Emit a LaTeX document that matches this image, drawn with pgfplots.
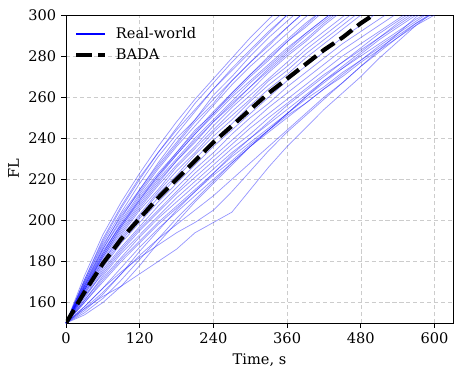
\documentclass[border=0pt]{standalone}
\usepackage{fontspec}
\setmainfont{DejaVu Serif}
\usepackage{pgfplots}
\pgfplotsset{compat=1.18}
\usetikzlibrary{calc}

\tikzset{
  rw/.style={draw=blue, opacity=0.42, line width=0.5pt},
  bada/.style={draw=black, line width=3pt, dash pattern=on 11.1pt off 4.8pt},
}

\begin{document}
\begin{tikzpicture}
\begin{axis}[
  scale only axis,
  width=278.6pt, height=221.8pt,
  xmin=0, xmax=630, ymin=150, ymax=300,
  xtick={0,120,...,600}, ytick={160,180,...,300},
  xlabel={Time, s}, ylabel={FL},
  tick align=outside, major tick length=3.5pt,
  xtick pos=bottom, ytick pos=left,
  /pgf/number format/assume math mode=true,
  tick label style={font=\fontsize{10.5}{12.5}\selectfont},
  label style={font=\fontsize{10.5}{12.5}\selectfont},
  grid=major,
  major grid style={gray!40, line width=0.5pt, dash pattern=on 3pt off 2pt},
  axis line style={line width=0.6pt},
  every tick/.style={black, line width=0.6pt},
  legend style={at={(axis description cs:0.01,0.98)}, anchor=north west,
    draw=none, fill=none, font=\fontsize{10.5}{12.5}\selectfont, row sep=2pt},
  legend cell align=left,
  legend image code/.code={\draw[#1] (0pt,0pt) -- (20.5pt,0pt); \path (25pt,0pt);},
]
\coordinate (bl) at (rel axis cs:0,0);
\coordinate (tr) at (rel axis cs:1,1);

% real-world trajectories
\addplot[rw, forget plot] coordinates {(0,150)(30,173)(60,193)(90,209)(120,223)(150,236)(180,248)(210,259)(240,269)(270,279)(300,289)(330,298)(360,306)};
\addplot[rw, forget plot] coordinates {(0,150)(30,171)(60,190)(90,206)(120,220)(150,233)(180,245)(210,257)(240,267)(270,277)(300,286)(330,295)(360,303)};
\addplot[rw, forget plot] coordinates {(0,150)(30,170)(60,189)(90,204)(120,218)(150,231)(180,242)(210,253)(240,264)(270,273)(300,282)(330,291)(360,300)(390,308)};
\addplot[rw, forget plot] coordinates {(0,150)(30,169)(60,187)(90,203)(120,215)(150,228)(180,240)(210,249)(240,261)(270,270)(300,280)(330,289)(360,297)(390,305)};
\addplot[rw, forget plot] coordinates {(0,150)(30,170)(60,188)(90,202)(120,214)(150,226)(180,237)(210,248)(240,257)(270,268)(300,277)(330,285)(360,294)(390,302)};
\addplot[rw, forget plot] coordinates {(0,150)(30,168)(60,186)(90,200)(120,213)(150,225)(180,236)(210,246)(240,256)(270,266)(300,275)(330,283)(360,291)(390,299)(420,306)};
\addplot[rw, forget plot] coordinates {(0,150)(30,167)(60,184)(90,199)(120,212)(150,223)(180,233)(210,244)(240,252)(270,262)(300,271)(330,280)(360,288)(390,296)(420,303)};
\addplot[rw, forget plot] coordinates {(0,150)(30,168)(60,185)(90,198)(120,210)(150,221)(180,232)(210,242)(240,252)(270,261)(300,270)(330,278)(360,287)(390,294)(420,302)};
\addplot[rw, forget plot] coordinates {(0,150)(30,166)(60,183)(90,197)(120,209)(150,220)(180,230)(210,240)(240,249)(270,258)(300,267)(330,275)(360,283)(390,291)(420,298)(450,305)};
\addplot[rw, forget plot] coordinates {(0,150)(30,167)(60,182)(90,195)(120,207)(150,218)(180,229)(210,238)(240,248)(270,257)(300,265)(330,274)(360,282)(390,290)(420,297)(450,304)};
\addplot[rw, forget plot] coordinates {(0,150)(30,166)(60,181)(90,194)(120,206)(150,217)(180,227)(210,236)(240,246)(270,255)(300,263)(330,272)(360,280)(390,287)(420,295)(450,302)};
\addplot[rw, forget plot] coordinates {(0,150)(30,165)(60,180)(90,193)(120,205)(150,215)(180,226)(210,235)(240,244)(270,253)(300,261)(330,269)(360,277)(390,285)(420,292)(450,299)(480,306)};
\addplot[rw, forget plot] coordinates {(0,150)(30,166)(60,180)(90,192)(120,203)(150,214)(180,224)(210,233)(240,243)(270,251)(300,259)(330,268)(360,275)(390,283)(420,290)(450,297)(480,304)};
\addplot[rw, forget plot] coordinates {(0,150)(30,164)(60,179)(90,191)(120,202)(150,213)(180,222)(210,232)(240,241)(270,249)(300,258)(330,266)(360,273)(390,281)(420,288)(450,295)(480,302)};
\addplot[rw, forget plot] coordinates {(0,150)(30,165)(60,178)(90,190)(120,201)(150,211)(180,221)(210,230)(240,239)(270,247)(300,256)(330,264)(360,271)(390,279)(420,286)(450,293)(480,300)(510,306)};
\addplot[rw, forget plot] coordinates {(0,150)(30,164)(60,177)(90,189)(120,199)(150,209)(180,218)(210,227)(240,236)(270,244)(300,252)(330,260)(360,268)(390,275)(420,282)(450,289)(480,295)(510,302)};
\addplot[rw, forget plot] coordinates {(0,150)(30,163)(60,176)(90,187)(120,197)(150,207)(180,216)(210,225)(240,233)(270,242)(300,250)(330,257)(360,265)(390,272)(420,279)(450,286)(480,292)(510,298)(540,304)};
\addplot[rw, forget plot] coordinates {(0,150)(30,162)(60,175)(90,186)(120,196)(150,205)(180,214)(210,223)(240,231)(270,239)(300,247)(330,255)(360,262)(390,269)(420,276)(450,283)(480,289)(510,295)(540,301)};
\addplot[rw, forget plot] coordinates {(0,150)(30,163)(60,174)(90,185)(120,195)(150,204)(180,213)(210,221)(240,229)(270,237)(300,245)(330,252)(360,259)(390,266)(420,273)(450,280)(480,286)(510,292)(540,298)(570,304)};
\addplot[rw, forget plot] coordinates {(0,150)(30,161)(60,173)(90,184)(120,193)(150,202)(180,211)(210,219)(240,227)(270,235)(300,242)(330,250)(360,257)(390,264)(420,271)(450,277)(480,283)(510,289)(540,295)(570,301)};
\addplot[rw, forget plot] coordinates {(0,150)(30,161)(60,172)(90,182)(120,192)(150,201)(180,209)(210,217)(240,225)(270,233)(300,240)(330,247)(360,254)(390,261)(420,268)(450,274)(480,280)(510,286)(540,292)(570,298)(600,303)};
\addplot[rw, forget plot] coordinates {(0,150)(30,160)(60,171)(90,181)(120,190)(150,199)(180,207)(210,215)(240,223)(270,231)(300,238)(330,245)(360,252)(390,259)(420,265)(450,272)(480,278)(510,284)(540,290)(570,296)(600,301)};
\addplot[rw, forget plot] coordinates {(0,150)(30,160)(60,170)(90,180)(120,189)(150,198)(180,206)(210,214)(240,222)(270,229)(300,237)(330,244)(360,251)(390,257)(420,264)(450,270)(480,277)(510,283)(540,289)(570,295)(600,300)(630,305)};
\addplot[rw, forget plot] coordinates {(0,150)(30,155)(60,162)(90,171)(120,181)(150,191)(180,201)(210,210)(240,219)(270,228)(300,236)(330,244)(360,252)(390,260)(420,267)(450,274)(480,281)(510,288)(540,294)(570,300)(600,306)};
\addplot[rw, forget plot] coordinates {(0,150)(30,156)(60,164)(90,174)(120,185)(150,195)(180,205)(210,214)(240,223)(270,232)(300,240)(330,248)(360,256)(390,263)(420,270)(450,277)(480,284)(510,291)(540,297)(570,303)};
\addplot[rw, forget plot] coordinates {(0,150)(30,154)(60,160)(90,168)(120,178)(150,189)(180,199)(210,209)(240,218)(270,227)(300,236)(330,244)(360,252)(390,260)(420,268)(450,275)(480,282)(510,289)(540,296)(570,302)};
\addplot[rw, forget plot] coordinates {(0,150)(30,157)(60,163)(90,168)(120,174)(150,180)(180,186)(210,194)(240,199)(270,204)(300,215)(330,226)(360,236)(390,245)(420,254)(450,262)(480,270)(510,279)(540,287)(570,295)(600,302)};
\addplot[rw, forget plot] coordinates {(0,150)(30,158)(60,167)(90,175)(120,182)(150,188)(180,194)(210,199)(240,205)(270,214)(300,224)(330,234)(360,243)(390,251)(420,259)(450,267)(480,275)(510,283)(540,291)(570,299)(600,306)};
\addplot[rw, forget plot] coordinates {(0,150)(30,157)(60,165)(90,174)(120,183)(150,191)(180,198)(210,205)(240,212)(270,220)(300,228)(330,236)(360,244)(390,252)(420,260)(450,267)(480,275)(510,282)(540,289)(570,296)(600,302)};
\addplot[rw, forget plot] coordinates {(0,150)(30,158)(60,167)(90,177)(120,187)(150,196)(180,204)(210,212)(240,220)(270,228)(300,236)(330,243)(360,250)(390,257)(420,264)(450,271)(480,278)(510,285)(540,291)(570,297)(600,303)};
\addplot[rw, forget plot] coordinates {(0,150)(30,169)(60,186)(90,201)(120,215)(150,227)(180,238)(210,249)(240,259)(270,268)(300,277)(330,286)(360,294)(390,302)};
\addplot[rw, forget plot] coordinates {(0,150)(30,167)(60,183)(90,197)(120,210)(150,222)(180,232)(210,242)(240,251)(270,260)(300,268)(330,276)(360,284)(390,291)(420,298)(450,305)};
\addplot[rw, forget plot] coordinates {(0,150)(30,168)(60,184)(90,198)(120,211)(150,222)(180,233)(210,243)(240,253)(270,262)(300,271)(330,279)(360,287)(390,295)(420,303)};
\addplot[rw, forget plot] coordinates {(0,150)(30,166)(60,182)(90,196)(120,208)(150,219)(180,229)(210,239)(240,248)(270,256)(300,265)(330,273)(360,281)(390,288)(420,296)(450,303)};
\addplot[rw, forget plot] coordinates {(0,150)(30,171)(60,191)(90,207)(120,221)(150,233)(180,244)(210,254)(240,264)(270,274)(300,283)(330,292)(360,300)(390,308)};

% BADA
\addplot[bada, forget plot] coordinates {(0,150)(30,165)(60,179)(90,191)(120,201)(150,211)(180,220)(210,229)(240,238)(270,246)(300,254)(330,262)(360,269)(390,276)(420,283)(450,289)(480,296)(510,302)};

\addlegendimage{draw=blue, line width=1.5pt}
\addlegendentry{Real-world}
\addlegendimage{bada}
\addlegendentry{BADA}
\end{axis}
\path ($(bl)+(-47.5pt,-38pt)$) rectangle ($(tr)+(7.2pt,10.8pt)$);
\end{tikzpicture}
\end{document}
